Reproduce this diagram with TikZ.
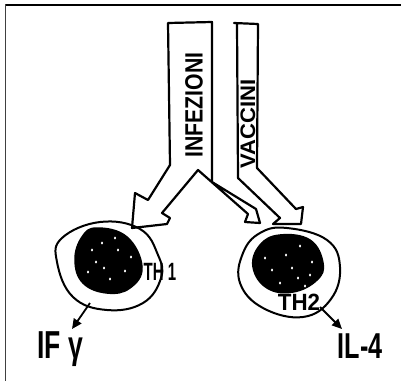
\documentclass[tikz,border=0pt]{standalone}
\usepackage{fontspec}
\setmainfont{Liberation Sans}
\usetikzlibrary{arrows.meta}
\begin{document}
\begin{tikzpicture}[x=1pt,y=-1pt,
  ink/.style={line width=2.2pt,line join=round,line cap=round},
  cellwall/.style={line width=2pt,line join=round},
  nucleus/.style={fill=black,draw=black,line width=1.5pt},
  speck/.style={fill=white,draw=none},
  outarrow/.style={line width=1.8pt,-{Triangle[length=10pt,width=9pt]}},
  lbl/.style={inner sep=0pt,anchor=base}]
\useasboundingbox (0,0) rectangle (401,381);
% frame
\draw[line width=2pt] (5,4.5) -- (401,4.5);
\draw[line width=1.5pt,black!75] (5.5,4) -- (5.5,381);

% INFEZIONI band splitting into two arrows
\draw[ink] (168,23) -- (212,22) -- (212,182) -- (256,209) -- (260,223)
  -- (245,222) -- (248,214) -- (198,170) -- (162,213) -- (170,218)
  -- (167,224) -- (132,228) -- (135,193) -- (148,200) -- (170,165) -- cycle;
\node[rotate=90,inner sep=0pt,font=\bfseries\fontsize{25}{25}\selectfont]
  (infez) at (194,105) {\scalebox{0.85}[1]{INFEZIONI}};

% VACCINI band
\draw[ink] (234,23) -- (258,24) -- (257,168) -- (296,209) -- (303,207)
  -- (301,224) -- (273,224) -- (280,218) -- (238,178) -- (237,24);
\node[rotate=90,inner sep=0pt,font=\bfseries\fontsize{21}{21}\selectfont]
  (vacc) at (248,124) {\scalebox{1.05}[1]{VACCINI}};

% TH1 cell
\draw[cellwall] plot[smooth cycle,tension=0.7] coordinates {
  (100,222) (140,229) (158,255) (161,278) (143,303) (107,310) (73,297) (57,262) (62,238)};
\draw[nucleus] plot[smooth cycle,tension=0.7] coordinates {
  (97,228) (127,237) (142,267) (130,288) (107,293) (83,283) (75,260) (82,237)};
\foreach \p in {(102,243),(118,250),(96,262),(125,271),(110,279),(88,272),(131,257),(104,268),(115,238),(92,250)}
  \fill[speck] \p ellipse (1.1 and 1.6);
\node[lbl,font=\bfseries\fontsize{25}{25}\selectfont] (th1) at (160,280) {\scalebox{0.6}[1]{TH 1}};
\coordinate (th1out) at (90,303);
\coordinate (ifgin) at (72,329);
\draw[outarrow] (th1out) -- (ifgin);
\node[lbl,font=\bfseries\fontsize{39}{39}\selectfont] (ifg) at (60,358) {\scalebox{0.68}[1]{IF γ}};

% TH2 cell
\draw[cellwall] plot[smooth cycle,tension=0.7] coordinates {
  (287,228) (327,240) (340,267) (331,299) (303,317) (263,308) (240,283) (243,253) (260,233)};
\draw[nucleus] plot[smooth cycle,tension=0.7] coordinates {
  (280,235) (310,240) (323,263) (317,280) (293,292) (267,288) (253,267) (260,245)};
\foreach \p in {(300,246),(312,262),(286,255),(272,270),(298,278),(310,275),(280,283),(265,258),(292,268),(305,286)}
  \fill[speck] \p ellipse (1.1 and 1.6);
\node[lbl,font=\bfseries\fontsize{23.5}{23.5}\selectfont] (th2) at (299,310) {\scalebox{0.95}[1]{TH2}};
\coordinate (th2out) at (320,307);
\coordinate (il4in) at (342,329);
\draw[outarrow] (th2out) -- (il4in);
\node[lbl,font=\bfseries\fontsize{36}{36}\selectfont] (il4) at (360,358) {\scalebox{0.7}[1]{IL-4}};
\end{tikzpicture}
\end{document}
